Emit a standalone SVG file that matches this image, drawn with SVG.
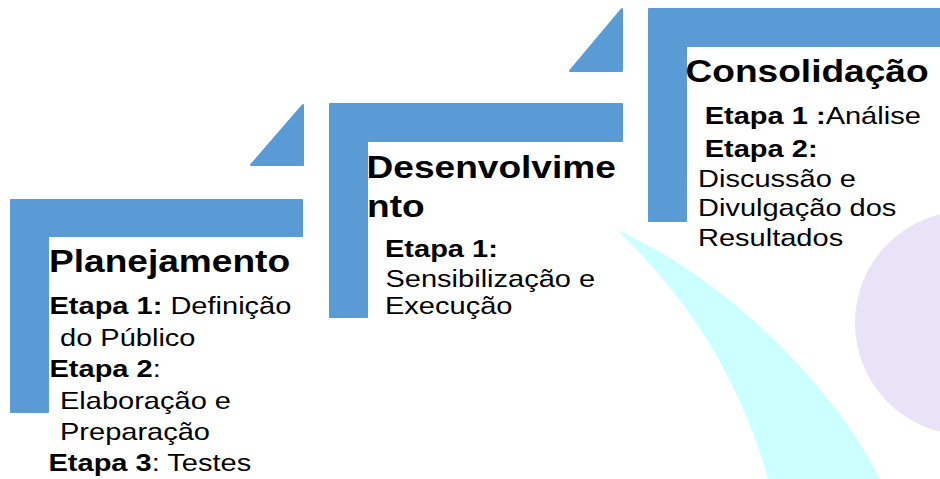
<svg xmlns="http://www.w3.org/2000/svg" width="940" height="479" viewBox="0 0 940 479">
<style>
.bar{fill:#5B9BD5;stroke:#5B9BD5;stroke-width:2;stroke-linejoin:round}
text{font-family:"Liberation Sans",Arial,sans-serif;fill:#000}
.t{font-size:31.7px;font-weight:bold}
.b{font-size:24.8px}
.bd{font-weight:bold}
</style>
<rect width="940" height="479" fill="#fff"/>
<g id="background">
<path d="M617,230 C720,275 830,380 880,479 L768,479 C740,380 690,300 617,230 Z" fill="#CCFFFF"/>
<circle cx="967" cy="323" r="112" fill="#E8E3F6"/>
</g>
<g id="connectors">
<path class="bar" d="M251,165 L303,105 L303,165 Z"/>
<path class="bar" d="M570,71 L622,9 L622,71 Z"/>
</g>
<g id="planejamento">
<path class="bar" d="M11,200 H302 V236 H48 V412 H11 Z"/>
<text class="t" transform="translate(49 272) scale(1.17 1)">Planejamento</text>
<text class="b" transform="translate(49.5 314) scale(1.17 1)"><tspan class="bd">Etapa 1:</tspan> Definição</text>
<text class="b" transform="translate(60 345.5) scale(1.17 1)">do Público</text>
<text class="b" transform="translate(49.5 377) scale(1.17 1)"><tspan class="bd">Etapa 2</tspan>:</text>
<text class="b" transform="translate(60 408.5) scale(1.17 1)">Elaboração e</text>
<text class="b" transform="translate(60 440) scale(1.17 1)">Preparação</text>
<text class="b" transform="translate(48.5 471) scale(1.17 1)"><tspan class="bd">Etapa 3</tspan>: Testes</text>
</g>
<g id="desenvolvimento">
<path class="bar" d="M330,104 H622 V141 H367 V317 H330 Z"/>
<text class="t" transform="translate(366.5 178) scale(1.17 1)">Desenvolvime</text>
<text class="t" transform="translate(367 216.5) scale(1.17 1)">nto</text>
<text class="b bd" transform="translate(385 257) scale(1.17 1)">Etapa 1:</text>
<text class="b" transform="translate(385.5 287) scale(1.17 1)">Sensibilização e</text>
<text class="b" transform="translate(385 314) scale(1.17 1)">Execução</text>
</g>
<g id="consolidacao">
<path class="bar" d="M649,9 H945 V46 H686 V221 H649 Z"/>
<text class="t" transform="translate(685.5 82) scale(1.17 1)">Consolidação</text>
<text class="b" transform="translate(704.7 124) scale(1.17 1)"><tspan class="bd">Etapa 1 :</tspan>Análise</text>
<text class="b bd" transform="translate(704.7 157) scale(1.17 1)">Etapa 2:</text>
<text class="b" transform="translate(698 187) scale(1.17 1)">Discussão e</text>
<text class="b" transform="translate(698 216) scale(1.17 1)">Divulgação dos</text>
<text class="b" transform="translate(698 245.5) scale(1.17 1)">Resultados</text>
</g>
</svg>
